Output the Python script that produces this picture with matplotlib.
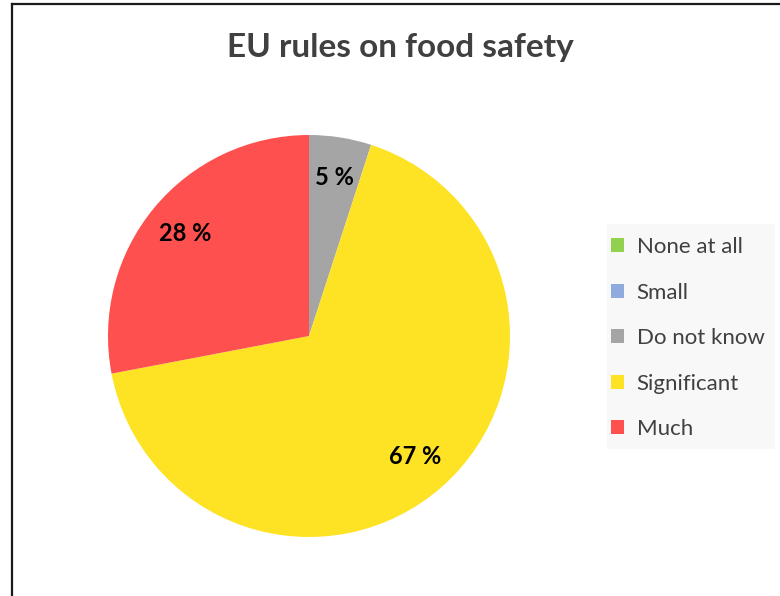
import matplotlib.pyplot as plt
from matplotlib.lines import Line2D
from matplotlib.patches import Patch, Rectangle

plt.rcParams['font.family'] = ['Lato', 'DejaVu Sans']

categories = ["None at all", "Small", "Do not know", "Significant", "Much"]
shares = [0, 0, 5, 67, 28]
colors = ["#92D050", "#8FAADC", "#A5A5A5", "#FEE325", "#FF5050"]

fig = plt.figure(figsize=(7.8, 5.96), dpi=100)

# chart area border (left and top edge only)
fig.add_artist(Line2D([11.5 / 780, 11.5 / 780], [0, 1 - 3.5 / 596],
                      color="#1a1a1a", lw=1.6))
fig.add_artist(Line2D([11.5 / 780, 1], [1 - 3.5 / 596, 1 - 3.5 / 596],
                      color="#1a1a1a", lw=1.6))

fig.text(400 / 780, 1 - 48 / 596, "EU rules on food safety", ha="center",
         va="center", fontsize=24, fontweight="bold", color="#404040")

ax = fig.add_axes([108 / 780, 59 / 596, 402 / 780, 402 / 596])


def pct_label(p):
    return f"{p:.0f} %" if p > 0.5 else ""


wedges, _, autotexts = ax.pie(shares, colors=colors, startangle=90,
                              counterclock=False, radius=1,
                              autopct=pct_label, pctdistance=0.8,
                              wedgeprops=dict(linewidth=0))
for t in autotexts:
    t.set_fontsize(17)
    t.set_fontweight("bold")
    t.set_color("black")
ax.set_xlim(-1, 1)
ax.set_ylim(-1, 1)
ax.set_aspect("equal")
ax.axis("off")

# legend background panel
fig.add_artist(Rectangle((607 / 780, 1 - 449 / 596), 168 / 780, 225 / 596,
                         transform=fig.transFigure, facecolor="#F8F8F8",
                         edgecolor="none", zorder=0))

handles = [Patch(facecolor=c, edgecolor="none") for c in colors]
leg = fig.legend(handles, categories, loc="upper left",
                 bbox_to_anchor=(611 / 780, 1 - 237 / 596),
                 frameon=False, fontsize=16, labelspacing=1.15,
                 handlelength=0.6, handleheight=0.6, handletextpad=0.55,
                 borderpad=0, borderaxespad=0)
for t in leg.get_texts():
    t.set_color("#404040")

fig.savefig("out.png", dpi=100)
